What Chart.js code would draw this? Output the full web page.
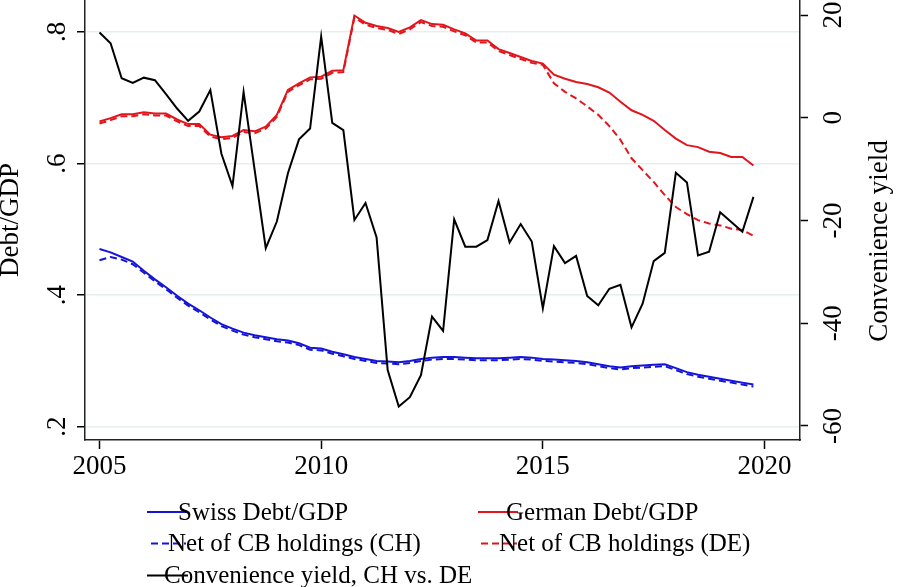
<!DOCTYPE html>
<html>
<head>
<meta charset="utf-8">
<script src="https://cdn.jsdelivr.net/npm/chart.js@4.4.0/dist/chart.umd.min.js"></script>
<style>
html, body { margin: 0; padding: 0; background: #fff; }
</style>
</head>
<body>
<canvas id="debtchart" width="904" height="587"></canvas>
<script>
// quarterly observations, 2005q1 .. 2019q4
var quarters = [
    2005, 2005.25, 2005.5, 2005.75, 2006, 2006.25, 2006.5, 2006.75,
    2007, 2007.25, 2007.5, 2007.75, 2008, 2008.25, 2008.5, 2008.75,
    2009, 2009.25, 2009.5, 2009.75, 2010, 2010.25, 2010.5, 2010.75,
    2011, 2011.25, 2011.5, 2011.75, 2012, 2012.25, 2012.5, 2012.75,
    2013, 2013.25, 2013.5, 2013.75, 2014, 2014.25, 2014.5, 2014.75,
    2015, 2015.25, 2015.5, 2015.75, 2016, 2016.25, 2016.5, 2016.75,
    2017, 2017.25, 2017.5, 2017.75, 2018, 2018.25, 2018.5, 2018.75,
    2019, 2019.25, 2019.5, 2019.75
];

var swissDebt = [
    0.470, 0.465, 0.458, 0.451, 0.437, 0.424, 0.412, 0.399, 0.387, 0.377,
    0.366, 0.356, 0.349, 0.343, 0.339, 0.336, 0.333, 0.331, 0.327, 0.320,
    0.319, 0.314, 0.310, 0.306, 0.303, 0.300, 0.299, 0.298, 0.300, 0.303,
    0.305, 0.306, 0.306, 0.305, 0.304, 0.304, 0.304, 0.305, 0.306, 0.305,
    0.303, 0.302, 0.301, 0.300, 0.298, 0.295, 0.292, 0.290, 0.292, 0.293,
    0.294, 0.295, 0.289, 0.283, 0.279, 0.276, 0.273, 0.270, 0.267, 0.264
];

var swissNet = [
    0.453, 0.458, 0.454, 0.447, 0.434, 0.421, 0.409, 0.396, 0.384, 0.374,
    0.363, 0.353, 0.346, 0.340, 0.336, 0.333, 0.330, 0.328, 0.324, 0.317,
    0.316, 0.311, 0.307, 0.303, 0.300, 0.297, 0.296, 0.295, 0.297, 0.300,
    0.302, 0.303, 0.303, 0.302, 0.301, 0.301, 0.301, 0.302, 0.303, 0.302,
    0.300, 0.299, 0.298, 0.297, 0.295, 0.292, 0.289, 0.287, 0.289, 0.290,
    0.291, 0.292, 0.286, 0.280, 0.276, 0.273, 0.270, 0.267, 0.264, 0.261
];

var germanDebt = [
    0.664, 0.669, 0.675, 0.675, 0.678, 0.676, 0.676, 0.667, 0.660, 0.660,
    0.644, 0.640, 0.642, 0.651, 0.649, 0.656, 0.674, 0.712, 0.722, 0.731,
    0.732, 0.741, 0.742, 0.825, 0.814, 0.809, 0.806, 0.800, 0.807, 0.818,
    0.812, 0.811, 0.804, 0.798, 0.787, 0.787, 0.774, 0.768, 0.762, 0.756,
    0.752, 0.735, 0.729, 0.724, 0.721, 0.716, 0.708, 0.694, 0.681, 0.674,
    0.665, 0.651, 0.638, 0.628, 0.625, 0.618, 0.616, 0.610, 0.610, 0.597
];

var germanNet = [
    0.661, 0.666, 0.672, 0.672, 0.675, 0.673, 0.673, 0.664, 0.657, 0.657,
    0.641, 0.637, 0.639, 0.648, 0.646, 0.653, 0.671, 0.709, 0.719, 0.728,
    0.729, 0.738, 0.739, 0.822, 0.811, 0.806, 0.803, 0.797, 0.804, 0.815,
    0.809, 0.808, 0.801, 0.795, 0.784, 0.784, 0.771, 0.765, 0.759, 0.753,
    0.750, 0.722, 0.709, 0.699, 0.687, 0.674, 0.657, 0.636, 0.608, 0.590,
    0.572, 0.552, 0.534, 0.523, 0.514, 0.509, 0.506, 0.501, 0.499, 0.490
];

var convYield = [
    16.6, 14.5, 7.7, 6.8, 7.8, 7.3, 4.6, 1.8, -0.6, 1.2,
    5.4, -7.0, -13.3, 5.0, -10.2, -25.4, -20.2, -10.8, -4.2, -2.1,
    15.8, -1.0, -2.4, -19.9, -16.6, -23.3, -49.1, -56.2, -54.4, -50.1,
    -38.7, -41.5, -19.8, -25.1, -25.1, -23.8, -16.2, -24.3, -20.7, -24.1,
    -37.1, -25.0, -28.3, -26.9, -34.7, -36.5, -33.3, -32.5, -40.8, -36.2,
    -27.9, -26.3, -10.7, -12.6, -26.8, -26.1, -18.4, -20.3, -22.2, -15.4
];

var xTicks = [2005, 2010, 2015, 2020];
var xTickLabels = ['2005', '2010', '2015', '2020'];
var leftTicks = [0.2, 0.4, 0.6, 0.8];
var leftTickLabels = ['.2', '.4', '.6', '.8'];
var rightTicks = [-60, -40, -20, 0, 20];
var rightTickLabels = ['-60', '-40', '-20', '0', '20'];

var BLUE = '#1414d8';
var RED = '#e2141c';
var SERIF = "'Liberation Serif', 'Times New Roman', serif";

function pairs(values) {
    return quarters.map(function (q, i) { return { x: q, y: values[i] }; });
}

// fixed axis boxes, no extra room for overhanging labels
function fixBox(w, h) {
    return function (s) {
        if (w !== null) s.width = w;
        if (h !== null) s.height = h;
        s.paddingTop = 0;
        s.paddingBottom = 0;
        s.paddingLeft = 0;
        s.paddingRight = 0;
    };
}

// legend drawn by hand: two columns, like the Stata original
var legendItems = [
    { ds: 0, x0: 147, x1: 188, tx: 178, y: 512, base: 520 },
    { ds: 2, x0: 478, x1: 518, tx: 506, y: 512, base: 520 },
    { ds: 1, x0: 151, x1: 186, tx: 168, y: 543.5, base: 551 },
    { ds: 3, x0: 481, x1: 517, tx: 499, y: 543.5, base: 551 },
    { ds: 4, x0: 147, x1: 188, tx: 164, y: 575.5, base: 583 }
];

const stataLegend = {
    id: 'stataLegend',
    afterDraw(chart) {
        const ctx = chart.ctx;
        ctx.save();
        legendItems.forEach(function (it) {
            const ds = chart.data.datasets[it.ds];
            ctx.strokeStyle = ds.borderColor;
            ctx.lineWidth = 2;
            ctx.setLineDash(ds.borderDash || []);
            ctx.beginPath();
            ctx.moveTo(it.x0, it.y);
            ctx.lineTo(it.x1, it.y);
            ctx.stroke();
            ctx.setLineDash([]);
            ctx.fillStyle = '#000';
            ctx.font = '25px ' + SERIF;
            ctx.textAlign = 'left';
            ctx.textBaseline = 'alphabetic';
            ctx.fillText(ds.label, it.tx, it.base);
        });
        // right axis title reads bottom to top, same as the left one
        const area = chart.chartArea;
        ctx.translate(879.5, (area.top + area.bottom) / 2 + 21);
        ctx.rotate(-Math.PI / 2);
        ctx.font = '27px ' + SERIF;
        ctx.textAlign = 'center';
        ctx.textBaseline = 'middle';
        ctx.fillText('Convenience yield', 0, 0);
        ctx.restore();
    }
};

var ctx = document.getElementById('debtchart');
var myChart = new Chart(ctx, {
    type: 'line',
    data: {
        datasets: [{
            label: 'Swiss Debt/GDP',
            data: pairs(swissDebt),
            borderColor: BLUE,
            yAxisID: 'y',
            order: 4
        },
        {
            label: 'Net of CB holdings (CH)',
            data: pairs(swissNet),
            borderColor: BLUE,
            borderDash: [7, 4],
            yAxisID: 'y',
            order: 3
        },
        {
            label: 'German Debt/GDP',
            data: pairs(germanDebt),
            borderColor: RED,
            yAxisID: 'y',
            order: 2
        },
        {
            label: 'Net of CB holdings (DE)',
            data: pairs(germanNet),
            borderColor: RED,
            borderDash: [7, 4],
            yAxisID: 'y',
            order: 1
        },
        {
            label: 'Convenience yield, CH vs. DE',
            data: pairs(convYield),
            borderColor: '#000',
            yAxisID: 'y1',
            order: 0
        },
        ]
    },
    options: {
        responsive: false,
        animation: false,
        devicePixelRatio: 1,
        layout: { padding: 0 },
        elements: {
            point: { radius: 0 },
            line: { tension: 0, borderWidth: 2, fill: false }
        },
        plugins: {
            legend: { display: false },
            tooltip: { enabled: false }
        },
        scales: {
            x: {
                type: 'linear',
                position: 'bottom',
                min: 2004.673,
                max: 2020.8,
                afterBuildTicks: function (s) { s.ticks = xTicks.map(function (v) { return { value: v }; }); },
                afterFit: fixBox(null, 147),
                ticks: {
                    color: '#000',
                    font: { size: 27, family: SERIF },
                    padding: 2,
                    maxRotation: 0,
                    autoSkip: false,
                    callback: function (v, i) { return xTickLabels[i]; }
                },
                grid: { drawOnChartArea: false, tickLength: 9, tickColor: '#000', tickWidth: 1.5 },
                border: { color: '#222', width: 1.5 }
            },
            y: {
                type: 'linear',
                position: 'left',
                min: 0.1798,
                max: 0.8486,
                afterBuildTicks: function (s) { s.ticks = leftTicks.map(function (v) { return { value: v }; }); },
                afterFit: fixBox(85, null),
                ticks: {
                    color: '#000',
                    font: { size: 27, family: SERIF },
                    minRotation: 90,
                    maxRotation: 90,
                    crossAlign: 'center',
                    padding: 9,
                    autoSkip: false,
                    callback: function (v, i) { return leftTickLabels[i]; }
                },
                grid: { color: '#e6eef0', lineWidth: 1.5, tickLength: 8, tickColor: '#000', tickWidth: 1.5 },
                border: { color: '#222', width: 1.5 },
                title: {
                    display: true,
                    text: 'Debt/GDP',
                    color: '#000',
                    font: { size: 27, family: SERIF, lineHeight: 0.82 },
                    padding: { top: 0, bottom: 0 }
                }
            },
            y1: {
                type: 'linear',
                position: 'right',
                min: -62.73,
                max: 22.92,
                afterBuildTicks: function (s) { s.ticks = rightTicks.map(function (v) { return { value: v }; }); },
                afterFit: fixBox(104, null),
                ticks: {
                    color: '#000',
                    font: { size: 27, family: SERIF },
                    minRotation: 90,
                    maxRotation: 90,
                    crossAlign: 'center',
                    padding: 8,
                    autoSkip: false,
                    callback: function (v, i) { return rightTickLabels[i]; }
                },
                grid: { drawOnChartArea: false, tickLength: 8, tickColor: '#000', tickWidth: 1.5 },
                border: { color: '#222', width: 1.5 }
            }
        }
    },
    plugins: [stataLegend]
});
</script>
</body>
</html>
